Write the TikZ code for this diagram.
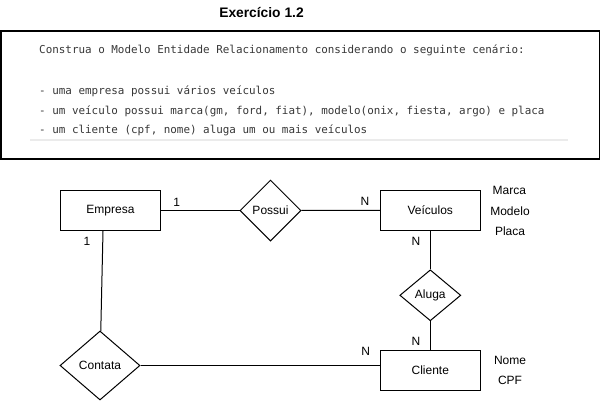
\documentclass[tikz,border=0pt]{standalone}
\usepackage{fontspec}
\setmainfont{Liberation Sans}
\setmonofont{DejaVu Sans Mono}
\usepackage{xcolor}
\usepackage{tikz}
\usetikzlibrary{shapes.geometric}
\definecolor{codetext}{RGB}{55,55,55}
\definecolor{rulegray}{RGB}{235,235,235}

\begin{document}
\begin{tikzpicture}[x=1pt, y=-1pt]
\tikzstyle{entity}=[draw, rectangle, line width=1pt, minimum width=100pt, minimum height=40pt, inner sep=0pt, font=\fontsize{12}{14}\selectfont]
\tikzstyle{relation}=[draw, diamond, line width=1pt, inner sep=0pt, font=\fontsize{12}{14}\selectfont]
\tikzstyle{lbl}=[inner sep=0pt, font=\fontsize{12}{14}\selectfont]
\tikzstyle{code}=[anchor=west, inner sep=0pt, text=codetext, font=\ttfamily\fontsize{10.9}{13}\selectfont]
\useasboundingbox (0,0) rectangle (601,402);

% enunciado
\node[lbl, font=\bfseries\fontsize{13.8}{16}\selectfont] (titulo) at (261.5,12.7) {Exercício 1.2};
\draw[line width=1.1pt] (1,31) rectangle (599.3,159);
\node[code] (t1) at (39,50.7) {Construa o Modelo Entidade Relacionamento considerando o seguinte cenário:};
\node[code] (t2) at (39,91) {- uma empresa possui vários veículos};
\node[code] (t3) at (39,111) {- um veículo possui marca(gm, ford, fiat), modelo(onix, fiesta, argo) e placa};
\node[code] (t4) at (39,130.7) {- um cliente (cpf, nome) aluga um ou mais veículos};
\draw[rulegray, line width=2pt] (30,140) -- (567.7,140);

% entidades e relacionamentos
\node[entity] (emp) at (110.5,210.5) {Empresa};
\node[relation, minimum width=61pt, minimum height=61pt] (pos) at (270.5,210.5) {Possui};
\node[entity] (vei) at (430.3,210.3) {Veículos};
\node[relation, minimum width=61pt, minimum height=51pt] (alu) at (430.3,295.3) {Aluga};
\node[entity] (cli) at (430.3,370) {Cliente};
\node[relation, minimum width=80pt, minimum height=69pt] (con) at (100,365.5) {Contata};

% atributos
\node[lbl] (marca) at (509.3,190.7) {Marca};
\node[lbl] (modelo) at (510,211) {Modelo};
\node[lbl] (placa) at (510,231) {Placa};
\node[lbl] (nome) at (510,360.3) {Nome};
\node[lbl] (cpf) at (510,380.7) {CPF};

% cardinalidades
\node[lbl] (c1) at (176.7,202) {1};
\node[lbl] (c2) at (365,201.7) {N};
\node[lbl] (c3) at (87,241.7) {1};
\node[lbl] (c4) at (416,241.7) {N};
\node[lbl] (c5) at (416,341) {N};
\node[lbl] (c6) at (365.7,351) {N};

\path[line width=1pt]
(pos) edge (emp)
      edge (vei)
(alu) edge (vei)
      edge (cli)
(con) edge ([xshift=-7.5pt]emp.south)
(con.east) edge (con.east -| cli.west);

\end{tikzpicture}
\end{document}
